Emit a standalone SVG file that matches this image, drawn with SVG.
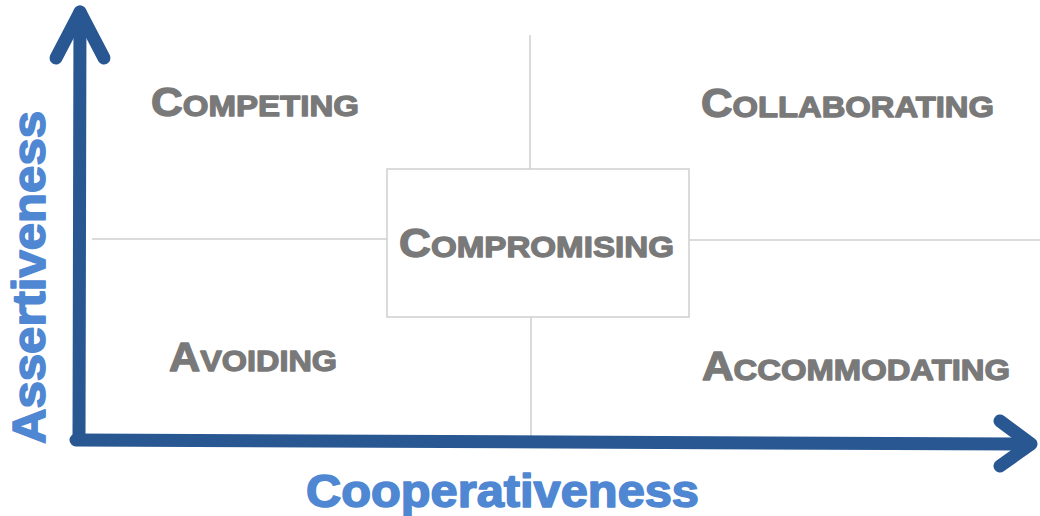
<svg xmlns="http://www.w3.org/2000/svg" width="1040" height="516" viewBox="0 0 1040 516">
<style>
.q{font-family:"Liberation Sans",Arial,sans-serif;font-weight:bold;fill:#797979;stroke:#797979;stroke-width:1.3;stroke-linejoin:round}
.big{font-size:40px}
.sm{font-size:30px}
.grid{stroke:#cfcfcf;stroke-width:1.5;fill:none}
.axis{stroke:#285792;stroke-width:13;fill:none;stroke-linecap:round;stroke-linejoin:round}
.lbl{font-family:"Liberation Sans",Arial,sans-serif;font-weight:bold;font-size:46px;fill:#4f87d3;stroke:#4f87d3;stroke-width:1.6;stroke-linejoin:round}
</style>
<rect width="1040" height="516" fill="#ffffff"/>
<g id="grid">
<line class="grid" x1="530" y1="35" x2="530" y2="169"/>
<line class="grid" x1="531" y1="317" x2="531" y2="437"/>
<line class="grid" x1="92" y1="239" x2="387" y2="239"/>
<line class="grid" x1="689" y1="240" x2="1040" y2="240"/>
</g>
<g id="connectors">
<path class="axis" d="M79,438 L80,12"/>
<path class="axis" d="M56,58 L80,12 L104,58"/>
<path class="axis" d="M76,440 L1030,444"/>
<path class="axis" d="M1000,421 L1031,444 L1000,466"/>
</g>
<g id="node-competing">
<text class="q" x="151" y="116" textLength="208" lengthAdjust="spacingAndGlyphs"><tspan class="big">C</tspan><tspan class="sm">OMPETING</tspan></text>
</g>
<g id="node-collaborating">
<text class="q" x="701" y="117" textLength="293" lengthAdjust="spacingAndGlyphs"><tspan class="big">C</tspan><tspan class="sm">OLLABORATING</tspan></text>
</g>
<g id="node-compromising">
<rect x="387" y="169" width="302" height="148" fill="#ffffff" stroke="#cfcfcf" stroke-width="1.5"/>
<text class="q" x="399" y="257" textLength="275" lengthAdjust="spacingAndGlyphs"><tspan class="big">C</tspan><tspan class="sm">OMPROMISING</tspan></text>
</g>
<g id="node-avoiding">
<text class="q" x="169" y="371" textLength="168" lengthAdjust="spacingAndGlyphs"><tspan class="big">A</tspan><tspan class="sm">VOIDING</tspan></text>
</g>
<g id="node-accommodating">
<text class="q" x="702" y="380" textLength="308" lengthAdjust="spacingAndGlyphs"><tspan class="big">A</tspan><tspan class="sm">CCOMMODATING</tspan></text>
</g>
<g id="label-assertiveness">
<text class="lbl" transform="translate(45,444) rotate(-90)" x="0" y="0" textLength="333" lengthAdjust="spacingAndGlyphs">Assertiveness</text>
</g>
<g id="label-cooperativeness">
<text class="lbl" x="306" y="507" textLength="393" lengthAdjust="spacingAndGlyphs">Cooperativeness</text>
</g>
</svg>
